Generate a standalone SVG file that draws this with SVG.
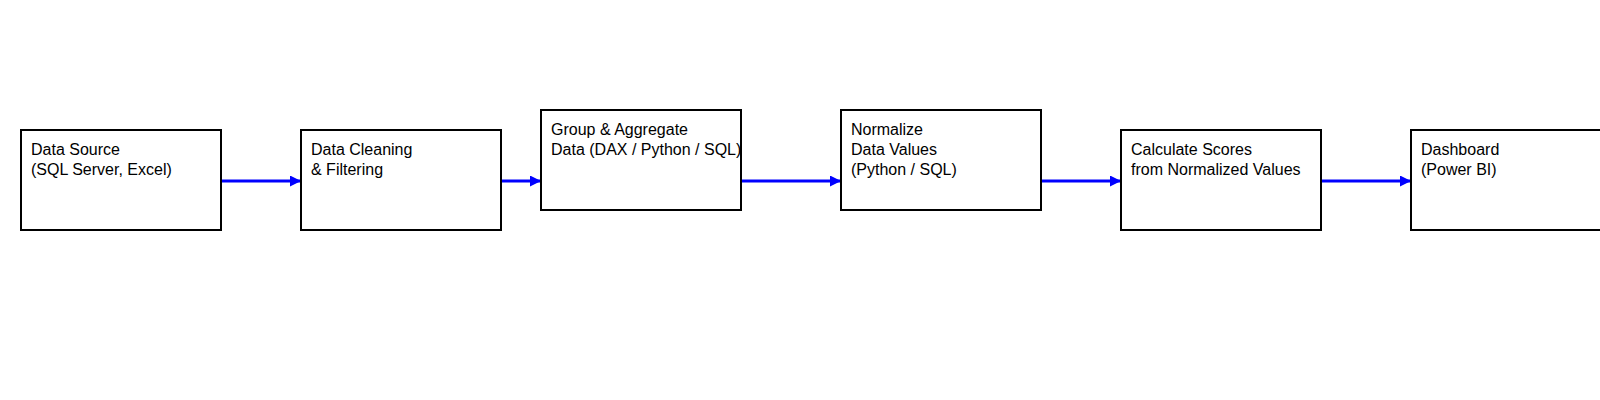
<svg xmlns="http://www.w3.org/2000/svg" width="1600" height="400" viewBox="0 0 1600 400">
<style>
.box{fill:#fff;stroke:#000;stroke-width:2}
.lbl{font-family:"Liberation Sans",Arial,sans-serif;font-size:16px;fill:#000}
.conn{stroke:#0000ff;stroke-width:3;fill:none;marker-end:url(#ah)}
</style>
<defs>
<marker id="ah" markerUnits="userSpaceOnUse" markerWidth="11" markerHeight="11" refX="11" refY="5.5" orient="auto">
<path d="M0,0 L11,5.5 L0,11 z" fill="#0000ff"/>
</marker>
</defs>
<rect width="1600" height="400" fill="#fff"/>
<g id="connectors">
<line class="conn" x1="221" y1="181" x2="301" y2="181"/>
<line class="conn" x1="501" y1="181" x2="541" y2="181"/>
<line class="conn" x1="741" y1="181" x2="841" y2="181"/>
<line class="conn" x1="1041" y1="181" x2="1121" y2="181"/>
<line class="conn" x1="1321" y1="181" x2="1411" y2="181"/>
</g>
<g id="n1"><rect class="box" x="21" y="130" width="200" height="100"/>
<text class="lbl" x="31" y="155">Data Source</text><text class="lbl" x="31" y="175">(SQL Server, Excel)</text></g>
<g id="n2"><rect class="box" x="301" y="130" width="200" height="100"/>
<text class="lbl" x="311" y="155">Data Cleaning</text><text class="lbl" x="311" y="175">&amp; Filtering</text></g>
<g id="n3"><rect class="box" x="541" y="110" width="200" height="100"/>
<text class="lbl" x="551" y="135">Group &amp; Aggregate</text><text class="lbl" x="551" y="155">Data (DAX / Python / SQL)</text></g>
<g id="n4"><rect class="box" x="841" y="110" width="200" height="100"/>
<text class="lbl" x="851" y="135">Normalize</text><text class="lbl" x="851" y="155">Data Values</text><text class="lbl" x="851" y="175">(Python / SQL)</text></g>
<g id="n5"><rect class="box" x="1121" y="130" width="200" height="100"/>
<text class="lbl" x="1131" y="155">Calculate Scores</text><text class="lbl" x="1131" y="175">from Normalized Values</text></g>
<g id="n6"><rect class="box" x="1411" y="130" width="200" height="100"/>
<text class="lbl" x="1421" y="155">Dashboard</text><text class="lbl" x="1421" y="175">(Power BI)</text></g>
</svg>
